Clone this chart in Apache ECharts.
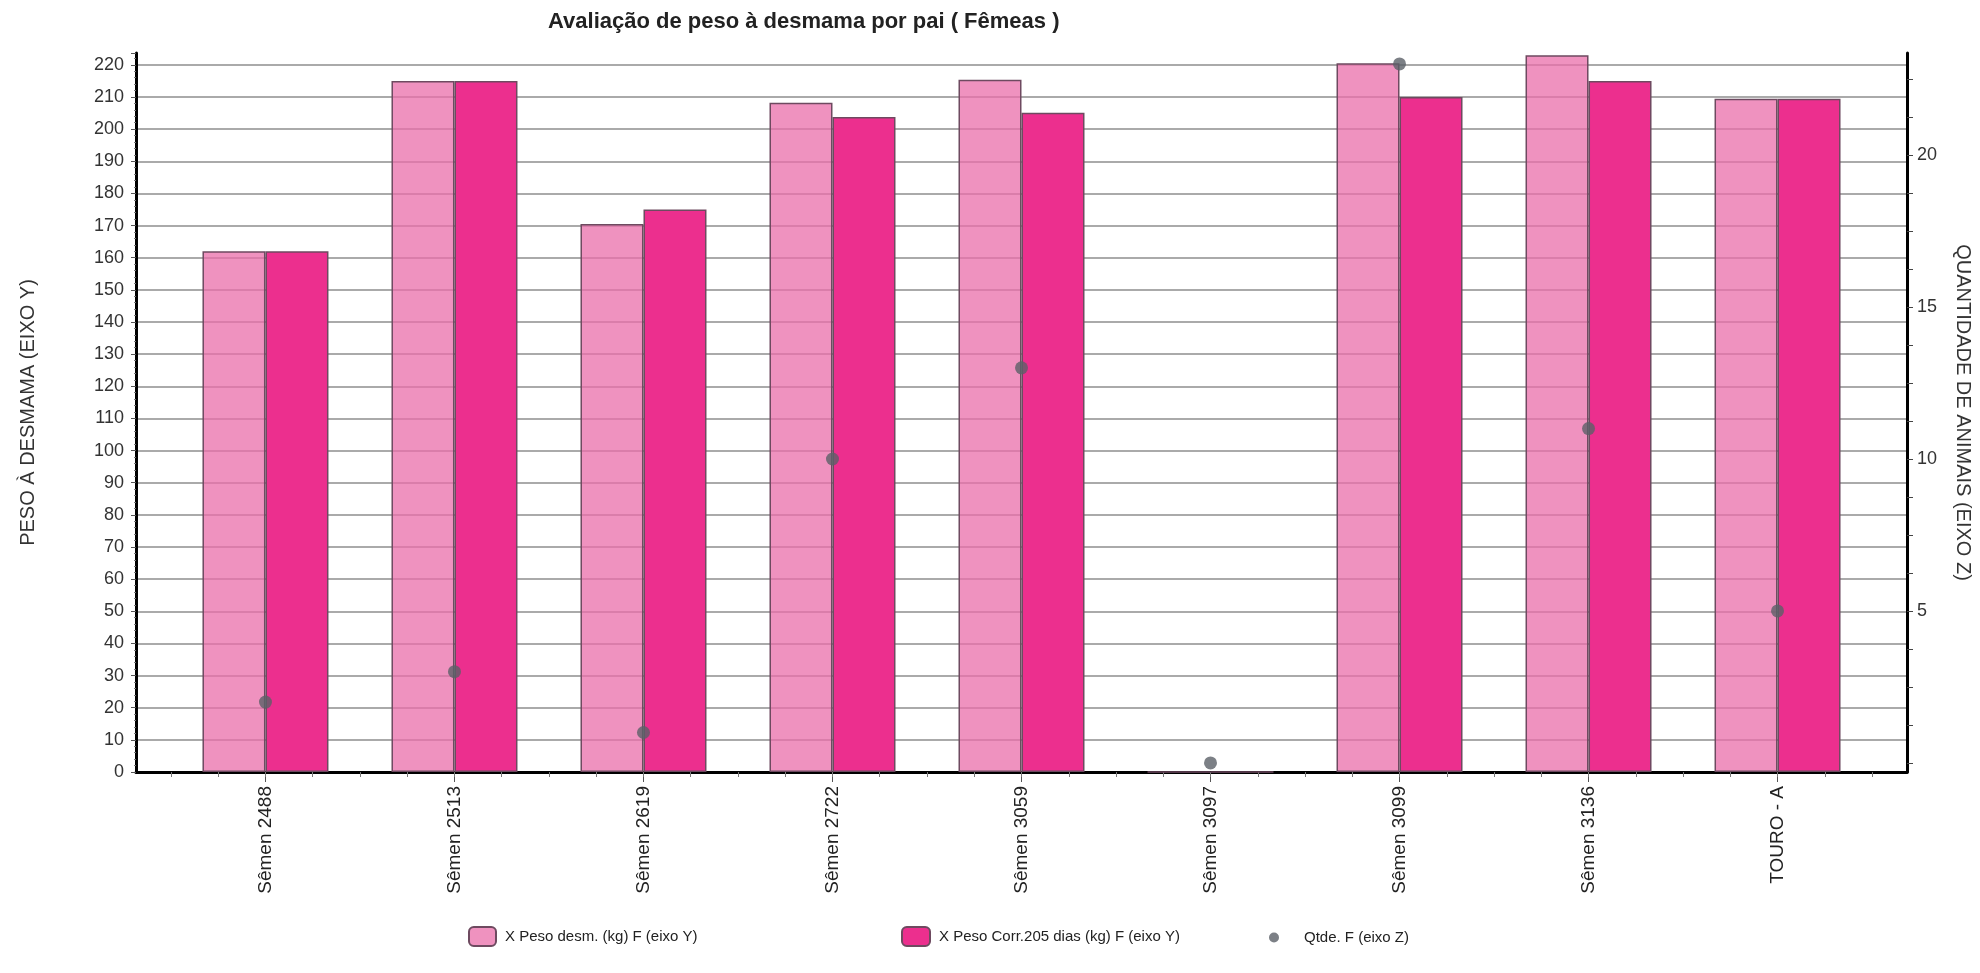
<!DOCTYPE html>
<html>
<head>
<meta charset="utf-8">
<script src="https://cdn.jsdelivr.net/npm/echarts@6/dist/echarts.min.js"></script>
<style>
  html, body { margin: 0; padding: 0; background: #fff; }
  #chart { width: 1980px; height: 973px; }
</style>
</head>
<body>
<div id="chart"></div>
<script>
// dados do gráfico
const categories = ['Sêmen 2488', 'Sêmen 2513', 'Sêmen 2619', 'Sêmen 2722', 'Sêmen 3059', 'Sêmen 3097', 'Sêmen 3099', 'Sêmen 3136', 'TOURO - A'];
const pesoDesm = [162, 215, 170.5, 208.2, 215.4, 0, 220.5, 223, 209.5];
const pesoCorr = [162, 215, 175, 203.8, 205.1, 0, 210, 215, 209.5];
const qtde = [2, 3, 1, 10, 13, 0, 23, 11, 5];

// rótulos dos eixos
const rightLabels = [5, 10, 15, 20];
const rightTicks = [0, 1.25, 2.5, 3.75, 5, 6.25, 7.5, 8.75, 10, 11.25, 12.5, 13.75, 15, 16.25, 17.5, 18.75, 20, 21.25, 22.5];
const catIdx = categories.map((c, i) => i);
const xMinorTicks = [];
for (let t = -0.5; t <= 8.5; t += 0.25) xMinorTicks.push(t);

const seriesNames = ['X Peso desm. (kg) F (eixo Y)', 'X Peso Corr.205 dias (kg) F (eixo Y)', 'Qtde. F (eixo Z)'];

const chart = echarts.init(document.getElementById('chart'));

const xRange = { min: -0.685, max: 8.685 };
const legendText = { fontSize: 15, color: '#222', padding: [0, 0, 0, 4] };

const option = {
  animation: false,
  textStyle: { fontFamily: 'Liberation Sans, Arial, sans-serif' },
  title: {
    text: 'Avaliação de peso à desmama por pai ( Fêmeas )',
    left: 543,
    top: 6,
    textStyle: { fontSize: 22, fontWeight: 'bold', color: '#222' }
  },
  legend: [
    { data: [seriesNames[0]], left: 463, top: 921, itemWidth: 27, itemHeight: 19, textStyle: legendText },
    { data: [seriesNames[1]], left: 896, top: 921, itemWidth: 28, itemHeight: 19, textStyle: legendText },
    { data: [seriesNames[2]], left: 1264, top: 925, itemWidth: 26, itemHeight: 10, icon: 'circle',
      textStyle: { fontSize: 15, color: '#222', padding: [0, 0, 0, 12] } }
  ],
  grid: { left: 136, right: 73, top: 53, bottom: 201, outerBoundsMode: 'none' },
  xAxis: [
    {
      type: 'value', ...xRange, position: 'bottom',
      splitLine: { show: false },
      axisLine: { show: true, onZero: false, lineStyle: { color: '#000', width: 3 } },
      axisTick: { show: true, customValues: catIdx, length: 10, lineStyle: { color: '#555' } },
      axisLabel: {
        customValues: catIdx,
        formatter: v => categories[Math.round(v)],
        rotate: 90, fontSize: 19, color: '#222', margin: 14
      }
    },
    {
      type: 'value', ...xRange, position: 'bottom',
      splitLine: { show: false },
      axisLine: { show: false, onZero: false },
      axisLabel: { show: false },
      axisTick: { show: true, customValues: xMinorTicks, length: 5, lineStyle: { color: '#777' } }
    }
  ],
  yAxis: [
    {
      type: 'value', min: 0, max: 223.7, interval: 10, position: 'left',
      name: 'PESO À DESMAMA (EIXO Y)', nameLocation: 'middle', nameRotate: 90, nameGap: 98,
      nameTextStyle: { fontSize: 20, color: '#333' },
      axisLine: { show: true, onZero: false, lineStyle: { color: '#000', width: 3 } },
      axisTick: { show: true, length: 5, lineStyle: { color: '#555' } },
      minorTick: { show: true, splitNumber: 5, length: 2, lineStyle: { color: '#777' } },
      axisLabel: { fontSize: 18, color: '#333', margin: 12, showMaxLabel: false },
      splitLine: { show: true, showMaxLine: false, lineStyle: { color: '#aaa', width: 2 } }
    },
    {
      type: 'value', min: -0.3, max: 23.36, position: 'right',
      name: 'QUANTIDADE DE ANIMAIS (EIXO Z)', nameLocation: 'middle', nameRotate: -90, nameGap: 46,
      nameTextStyle: { fontSize: 20, color: '#333' },
      axisLine: { show: true, onZero: false, lineStyle: { color: '#000', width: 3 } },
      axisTick: { show: true, customValues: rightTicks, length: 6, lineStyle: { color: '#444' } },
      axisLabel: { customValues: rightLabels, fontSize: 18, color: '#333', margin: 10 },
      splitLine: { show: false }
    }
  ],
  series: [
    {
      name: seriesNames[0],
      type: 'bar',
      xAxisIndex: 0, yAxisIndex: 0,
      barWidth: 63, barGap: '0%',
      itemStyle: { color: 'rgba(234,110,170,0.75)', borderColor: '#6e4a60', borderWidth: 1.5 },
      data: pesoDesm.map((v, i) => [i, v])
    },
    {
      name: seriesNames[1],
      type: 'bar',
      xAxisIndex: 0, yAxisIndex: 0,
      barWidth: 63, barGap: '0%',
      itemStyle: { color: '#ec2f8e', borderColor: '#6e4a60', borderWidth: 1.5 },
      data: pesoCorr.map((v, i) => [i, v])
    },
    {
      name: seriesNames[2],
      type: 'scatter',
      xAxisIndex: 0, yAxisIndex: 1,
      symbolSize: 13,
      itemStyle: { color: '#5b6068' },
      z: 5,
      data: qtde.map((v, i) => [i, v])
    }
  ]
};

chart.setOption(option);
</script>
</body>
</html>
